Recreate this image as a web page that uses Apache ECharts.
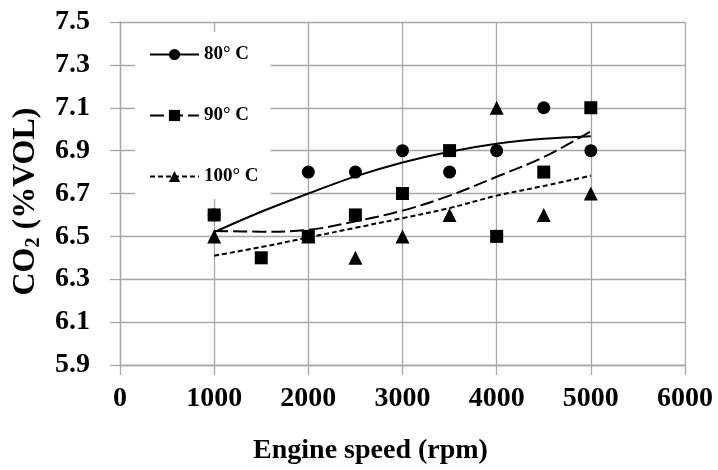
<!DOCTYPE html>
<html>
<head>
  <meta charset="UTF-8">
  <title>CO2 vs engine speed</title>
  <script src="https://cdn.jsdelivr.net/npm/echarts@6/dist/echarts.min.js"></script>
  <style>
    html, body { margin: 0; padding: 0; background: #fff; }
  </style>
</head>
<body>
  <div id="chart" style="width: 718px; height: 470px;"></div>

  <script>
    // engine speed (rpm)
    const speeds = [1000, 1500, 2000, 2500, 3000, 3500, 4000, 4500, 5000];

    // measured CO2 (%VOL), null = no point
    const co2_80 = [6.6, null, 6.8, 6.8, 6.9, 6.8, 6.9, 7.1, 6.9];
    const co2_90 = [6.6, 6.4, 6.5, 6.6, 6.7, 6.9, 6.5, 6.8, 7.1];
    const co2_100 = [6.5, null, 6.5, 6.4, 6.5, 6.6, 7.1, 6.6, 6.7];

    // trend lines
    const trend_80 = [6.52, 6.615, 6.70, 6.78, 6.845, 6.895, 6.932, 6.955, 6.967];
    const trend_90 = [6.525, 6.522, 6.53, 6.57, 6.62, 6.69, 6.778, 6.87, 6.99];
    const trend_100 = [6.41, 6.45, 6.495, 6.54, 6.585, 6.632, 6.69, 6.735, 6.783];

    const names = ['80° C', '90° C', '100° C'];

    const FONT = '"Liberation Serif", "Times New Roman", serif';
    const GRID = '#a6a6a6';

    function pairs(arr) {
      return speeds.map((s, i) => [s, arr[i]]).filter(p => p[1] != null);
    }

    function trend(name, arr, symbol, type) {
      return {
        name: name,
        type: 'line',
        data: pairs(arr),
        smooth: 0.35,
        symbol: symbol,
        showSymbol: false,
        itemStyle: { color: '#000' },
        lineStyle: { color: '#000', width: 2, type: type },
        silent: true,
        z: 2
      };
    }

    function points(name, arr, symbol, size) {
      return {
        name: name,
        type: 'scatter',
        data: pairs(arr),
        symbol: symbol,
        symbolSize: size,
        itemStyle: { color: '#000', opacity: 1 },
        z: 3
      };
    }

    const chart = echarts.init(document.getElementById('chart'));

    const option = {
      animation: false,
      backgroundColor: '#fff',
      grid: { left: 120, right: 33, top: 22, bottom: 102 },
      legend: {
        data: names,
        orient: 'vertical',
        left: 135,
        top: 32,
        padding: [13, 12, 13, 14],
        itemWidth: 49,
        itemHeight: 14,
        itemGap: 42,
        itemTextGap: 4,
        backgroundColor: '#fff',
        textStyle: { fontFamily: FONT, fontWeight: 'bold', fontSize: 19, color: '#000' },
        selectedMode: false,
        z: 10
      },
      xAxis: {
        type: 'value',
        min: 0,
        max: 6000,
        interval: 1000,
        name: 'Engine speed (rpm)',
        nameLocation: 'middle',
        nameGap: 72,
        nameTextStyle: {
          fontFamily: FONT, fontWeight: 'bold', fontSize: 28, color: '#000',
          padding: [0, 64, 0, 0]
        },
        axisLine: { show: true, lineStyle: { color: GRID, width: 1.3 } },
        axisTick: { show: true, inside: false, length: 10, lineStyle: { color: GRID, width: 1.3 } },
        splitLine: { show: true, lineStyle: { color: GRID, width: 1.3 } },
        axisLabel: {
          margin: 20,
          fontFamily: FONT, fontWeight: 'bold', fontSize: 28, color: '#000',
          formatter: v => String(v)
        }
      },
      yAxis: {
        type: 'value',
        min: 5.9,
        max: 7.5,
        interval: 0.2,
        name: '{a|CO}{b|2}{a| (%VOL)}',
        nameLocation: 'middle',
        nameGap: 76,
        nameTextStyle: {
          padding: [0, 16, 0, 0],
          rich: {
            a: { fontFamily: FONT, fontWeight: 'bold', fontSize: 32, lineHeight: 36, color: '#000' },
            b: { fontFamily: FONT, fontWeight: 'bold', fontSize: 20, lineHeight: 22, color: '#000', verticalAlign: 'bottom' }
          }
        },
        axisLine: { show: true, lineStyle: { color: GRID, width: 1.3 } },
        axisTick: { show: true, inside: false, length: 10, lineStyle: { color: GRID, width: 1.3 } },
        splitLine: { show: true, lineStyle: { color: GRID, width: 1.3 } },
        axisLabel: {
          margin: 30,
          fontFamily: FONT, fontWeight: 'bold', fontSize: 28, color: '#000',
          formatter: v => v.toFixed(1)
        }
      },
      series: [
        trend(names[0], trend_80, 'circle', 'solid'),
        trend(names[1], trend_90, 'rect', [14, 5]),
        trend(names[2], trend_100, 'triangle', [5, 3]),
        points(names[0], co2_80, 'circle', 13),
        points(names[1], co2_90, 'rect', 13),
        points(names[2], co2_100, 'triangle', 14)
      ]
    };

    chart.setOption(option);
  </script>
</body>
</html>
